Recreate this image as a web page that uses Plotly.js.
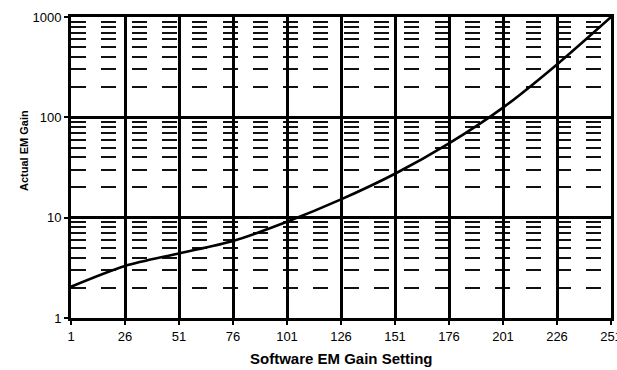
<!DOCTYPE html>
<html>
<head>
<meta charset="utf-8">
<script src="https://cdn.plot.ly/plotly-3.0.1.min.js"></script>
<style>html,body{margin:0;padding:0;background:#fff;overflow:hidden;}#chart{width:617px;height:370px;}</style>
</head>
<body>
<div id="chart"></div>
<script>
const gainSetting = [1, 26, 51, 76, 101, 126, 151, 176, 201, 226, 251];
const actualGain = [2.05, 3.3, 4.4, 5.85, 9.1, 15.2, 27.4, 55, 125, 337, 1000];
const xTicks = [1, 26, 51, 76, 101, 126, 151, 176, 201, 226, 251];
const yTicks = [1, 10, 100, 1000];
const yMinor = [2,3,4,5,6,7,8,9,20,30,40,50,60,70,80,90,200,300,400,500,600,700,800,900];

const fam = 'Liberation Sans, Arial, sans-serif';
const tickFont = {family: fam, size: 13, color: '#000'};

const trace = {
  x: gainSetting, y: actualGain, type: 'scatter', mode: 'lines',
  line: {color: '#000', width: 2.6, shape: 'spline', smoothing: 0.8},
  hoverinfo: 'skip'
};

const layout = {
  width: 617, height: 370,
  margin: {l: 71, r: 6, t: 17, b: 52},
  paper_bgcolor: '#fff', plot_bgcolor: '#fff',
  showlegend: false,
  font: tickFont,
  xaxis: {
    range: [1, 251], tickmode: 'array', tickvals: xTicks, ticktext: xTicks.map(String),
    ticks: 'outside', ticklen: 4, tickwidth: 2, tickcolor: '#000',
    ticklabeloverflow: 'allow',
    showgrid: true, gridcolor: '#000', gridwidth: 3,
    showline: true, linecolor: '#000', linewidth: 3, mirror: true,
    zeroline: false, tickfont: tickFont,
    title: {text: ''}
  },
  yaxis: {
    type: 'log', range: [0, 3], tickmode: 'array', tickvals: yTicks, ticktext: yTicks.map(String),
    ticks: 'outside', ticklen: 4, tickwidth: 2, tickcolor: '#000',
    ticklabeloverflow: 'allow',
    showgrid: true, gridcolor: '#000', gridwidth: 3,
    showline: true, linecolor: '#000', linewidth: 3, mirror: true,
    zeroline: false, tickfont: tickFont,
    minor: {tickmode: 'array', tickvals: yMinor, showgrid: true, gridcolor: '#111', gridwidth: 2, griddash: '15px,15.3px', ticks: ''},
    title: {text: ''}
  },
  annotations: [
    {text: '<b>Software EM Gain Setting</b>', xref: 'paper', yref: 'paper', x: 0.5, y: -0.136,
     xanchor: 'center', yanchor: 'middle', showarrow: false, font: {family: fam, size: 15, color: '#000'}},
    {text: '<b>Actual EM Gain</b>', xref: 'paper', yref: 'paper', x: -0.087, y: 0.555,
     xanchor: 'center', yanchor: 'middle', textangle: -90, showarrow: false, font: {family: fam, size: 11, color: '#000'}}
  ]
};

Plotly.newPlot('chart', [trace], layout, {staticPlot: true, displayModeBar: false});
</script>
</body>
</html>
